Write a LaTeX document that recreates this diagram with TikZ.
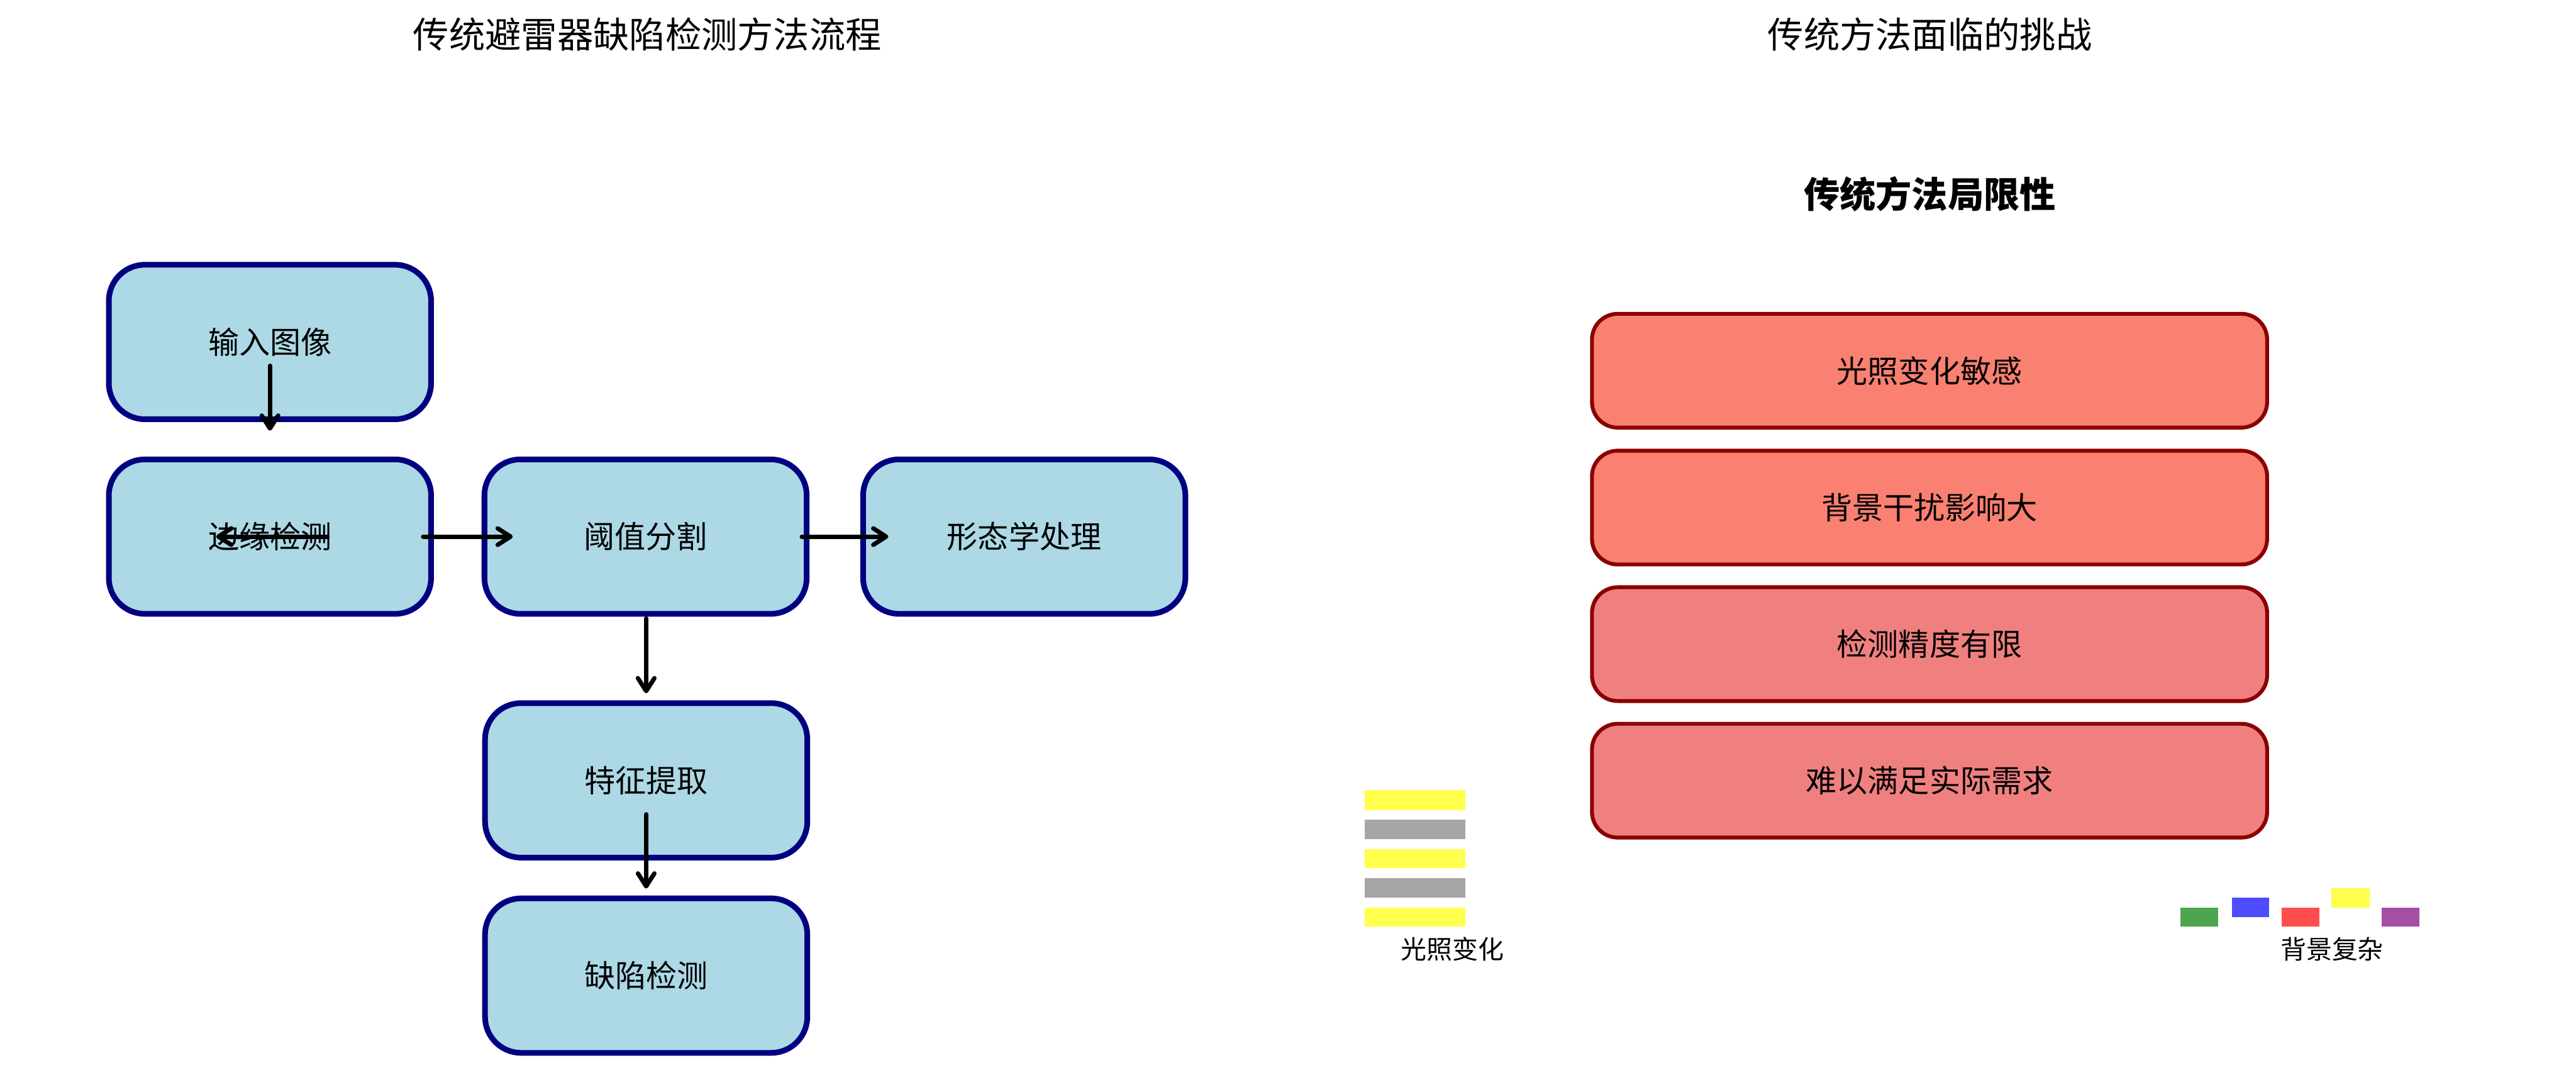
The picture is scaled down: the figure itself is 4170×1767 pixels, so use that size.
\documentclass[tikz,border=0pt]{standalone}
\usepackage{fontspec}
\setmainfont{Noto Sans CJK SC}
\usetikzlibrary{arrows.meta,calc}
\definecolor{boxblue}{HTML}{ADD8E6}
\definecolor{boxnavy}{HTML}{000080}
\definecolor{salmonc}{HTML}{FA8072}
\definecolor{coralc}{HTML}{F08080}
\definecolor{darkredc}{HTML}{8B0000}
\definecolor{ylw}{HTML}{FFFF4D}
\definecolor{gry}{HTML}{A6A6A6}
\definecolor{grn}{HTML}{4DA64D}
\definecolor{blu}{HTML}{4D4DFF}
\definecolor{rdd}{HTML}{FF4D4D}
\definecolor{prp}{HTML}{A64DA6}
\tikzset{
  flowbox/.style={draw=boxnavy, fill=boxblue, line width=2.2bp, rounded corners=14bp,
    minimum width=125.2bp, minimum height=60bp, inner sep=0pt,
    font=\fontsize{12bp}{14bp}\selectfont},
  limbox/.style={draw=darkredc, line width=1.5bp, rounded corners=10bp,
    minimum width=262.3bp, minimum height=44.2bp, inner sep=0pt,
    font=\fontsize{12bp}{14bp}\selectfont},
  titletext/.style={font=\fontsize{14bp}{16bp}\selectfont, inner sep=0pt},
  smalltext/.style={font=\fontsize{10bp}{12bp}\selectfont, inner sep=0pt},
  flowarrow/.style={line width=1.7bp, line cap=round,
    -{Straight Barb[length=5bp,width=6.4bp,round]}},
}
\begin{document}
\begin{tikzpicture}[x=0.24bp, y=-0.24bp]
\useasboundingbox (0,0) rectangle (4170,1767);

% titles
\node[titletext] (t1) at (1048,56) {传统避雷器缺陷检测方法流程};
\node[titletext] (t2) at (3124,56) {传统方法面临的挑战};
\node[titletext, font=\fontsize{14bp}{16bp}\selectfont\bfseries] (t3) at (3124,314) {传统方法局限性};

% left flow boxes
\node[flowbox] (b1) at (437,553.5) {输入图像};
\node[flowbox] (b2) at (437,868.5) {边缘检测};
\node[flowbox] (b3) at (1045,868.5) {阈值分割};
\node[flowbox] (b4) at (1658,868.5) {形态学处理};
\node[flowbox] (b5) at (1046,1263) {特征提取};
\node[flowbox] (b6) at (1046,1579) {缺陷检测};

% arrow end points
\coordinate (a1s) at ($(b1.center)+(0,38.5)$);
\coordinate (a1e) at ($(b2.center)+(0,-171.5)$);
\coordinate (a2s) at ($(b2.center)+(93,0)$);
\coordinate (a2e) at ($(b2.center)+(-87,0)$);
\coordinate (a3s) at ($(b2.center)+(248,0)$);
\coordinate (a3e) at ($(b3.center)+(-215,0)$);
\coordinate (a4s) at ($(b3.center)+(253,0)$);
\coordinate (a4e) at ($(b4.center)+(-220,0)$);
\coordinate (a5s) at ($(b3.center)+(1,132.5)$);
\coordinate (a5e) at ($(b5.center)+(0,-141)$);
\coordinate (a6s) at ($(b5.center)+(0,55)$);
\coordinate (a6e) at ($(b6.center)+(0,-141)$);

\draw[flowarrow] (a1s) -- (a1e);
\draw[flowarrow] (a2s) -- (a2e);
\draw[flowarrow] (a3s) -- (a3e);
\draw[flowarrow] (a4s) -- (a4e);
\draw[flowarrow] (a5s) -- (a5e);
\draw[flowarrow] (a6s) -- (a6e);

% right limitation boxes
\node[limbox, fill=salmonc] (r1) at (3123.5,600) {光照变化敏感};
\node[limbox, fill=salmonc] (r2) at (3123.5,821.5) {背景干扰影响大};
\node[limbox, fill=coralc] (r3) at (3123.5,1042.5) {检测精度有限};
\node[limbox, fill=coralc] (r4) at (3123.5,1263.5) {难以满足实际需求};

% lighting stripes
\fill[ylw] (2209,1279) rectangle (2372,1311);
\fill[gry] (2209,1327) rectangle (2372,1358);
\fill[ylw] (2209,1374) rectangle (2372,1405);
\fill[gry] (2209,1421) rectangle (2372,1453);
\fill[ylw] (2209,1469) rectangle (2372,1500);
\node[smalltext] (l1) at (2351,1536) {光照变化};

% background bars
\fill[grn] (3530,1469) rectangle (3591,1500);
\fill[blu] (3613,1453) rectangle (3673,1484);
\fill[rdd] (3693,1469) rectangle (3755,1500);
\fill[ylw] (3774,1437) rectangle (3836,1469);
\fill[prp] (3855,1469) rectangle (3916,1500);
\node[smalltext] (l2) at (3775,1536) {背景复杂};
\end{tikzpicture}
\end{document}
